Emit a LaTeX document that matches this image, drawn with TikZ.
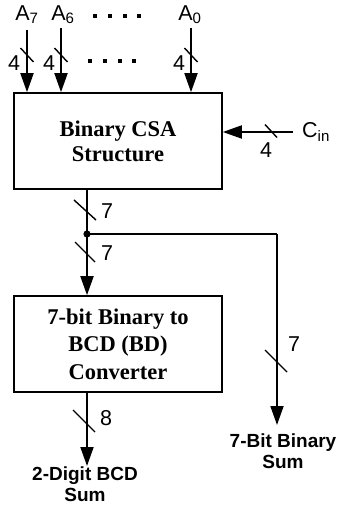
\documentclass[tikz,border=0pt]{standalone}
\usepackage{fontspec}
\setmainfont{Liberation Sans}
\newfontfamily\boxfont{Liberation Serif}
\usetikzlibrary{arrows.meta}
\tikzset{
  wire/.style={line width=1.8pt},
  arr/.style={wire,-{Triangle[length=19pt,width=13pt]}},
  blockbox/.style={draw,line width=1.6pt,minimum width=208pt,minimum height=96pt,inner sep=0pt,align=center,font=\boxfont\bfseries},
  lbl/.style={inner sep=0pt,font=\fontsize{21.5}{24}\selectfont},
  outlbl/.style={inner sep=0pt,align=center,font=\fontsize{19}{21}\selectfont\bfseries},
  dotsq/.style={fill=black,minimum size=4pt,inner sep=0pt}
}
\newcommand{\busslash}[3]{\draw[line width=1.4pt] (#1) ++(-#2,-#3) -- ++(2*#2,2*#3);}
\begin{document}
\begin{tikzpicture}[x=1pt,y=-1pt]
\useasboundingbox (0,0) rectangle (337,510);
% boxes
\node[blockbox,font=\boxfont\bfseries\fontsize{22.5}{25}\selectfont] (csa) at (118,141) {Binary CSA\\Structure};
\node[blockbox,font=\boxfont\bfseries\fontsize{22.5}{27.5}\selectfont] (bd) at (118,344) {7-bit Binary to\\BCD (BD)\\Converter};
% input labels
\node[lbl] (la7) at (27,15) {A\textsubscript{7}};
\node[lbl] (la6) at (63,15) {A\textsubscript{6}};
\node[lbl] (la0) at (190,15) {A\textsubscript{0}};
% dots
\foreach \i/\x in {1/95,2/110,3/125,4/139} {\node[dotsq] (td\i) at (\x,16) {};}
\foreach \i/\x in {1/90,2/105,3/120,4/134} {\node[dotsq] (bd\i) at (\x,61) {};}
% input arrows
\coordinate (a7) at (27,30);
\coordinate (a6) at (61,28);
\coordinate (a0) at (191,28);
\draw[arr] (a7) -- (a7 |- csa.north);
\draw[arr] (a6) -- (a6 |- csa.north);
\draw[arr] (a0) -- (a0 |- csa.north);
\coordinate (s7) at (27,55);
\coordinate (s6) at (61,55);
\coordinate (s0) at (191,55);
\busslash{s7}{6.5}{7}
\busslash{s6}{6.5}{7}
\busslash{s0}{6.5}{7}
\node[lbl] (n7) at (14,63) {4};
\node[lbl] (n6) at (49,63) {4};
\node[lbl] (n0) at (179,63) {4};
% Cin
\coordinate (cin) at (293,132);
\node[lbl,anchor=west] (lcin) at (302,132) {C\textsubscript{in}};
\draw[arr] (cin) -- (cin -| csa.east);
\coordinate (scin) at (271,131);
\busslash{scin}{6}{6.5}
\node[lbl] (ncin) at (266,150) {4};
% output of CSA
\coordinate (j) at (87,234);
\draw[arr] (j |- csa.south) -- (j |- bd.north);
\fill (j) circle (3.6pt);
\coordinate (s1) at (85,210);
\busslash{s1}{11}{10}
\node[lbl] (l71) at (107,211) {7};
\coordinate (s2) at (85,252);
\busslash{s2}{10}{10}
\node[lbl] (l72) at (107,253) {7};
% branch
\coordinate (corner) at (277,234);
\coordinate (bend) at (277,425);
\draw[wire] (j) -- (corner);
\draw[arr] (corner) -- (bend);
\coordinate (s3) at (276,361);
\busslash{s3}{11}{11}
\node[lbl] (l73) at (294,344) {7};
\node[outlbl,anchor=north] (bsum) at (283,434) {7-Bit Binary\\Sum};
% BD output
\coordinate (bcdend) at (87,466);
\draw[arr] (j |- bd.south) -- (bcdend);
\coordinate (s4) at (84,421);
\busslash{s4}{11}{11}
\node[lbl] (l8) at (106,418) {8};
\node[outlbl,anchor=north] (bcdsum) at (85,467) {2-Digit BCD\\Sum};
\end{tikzpicture}
\end{document}
